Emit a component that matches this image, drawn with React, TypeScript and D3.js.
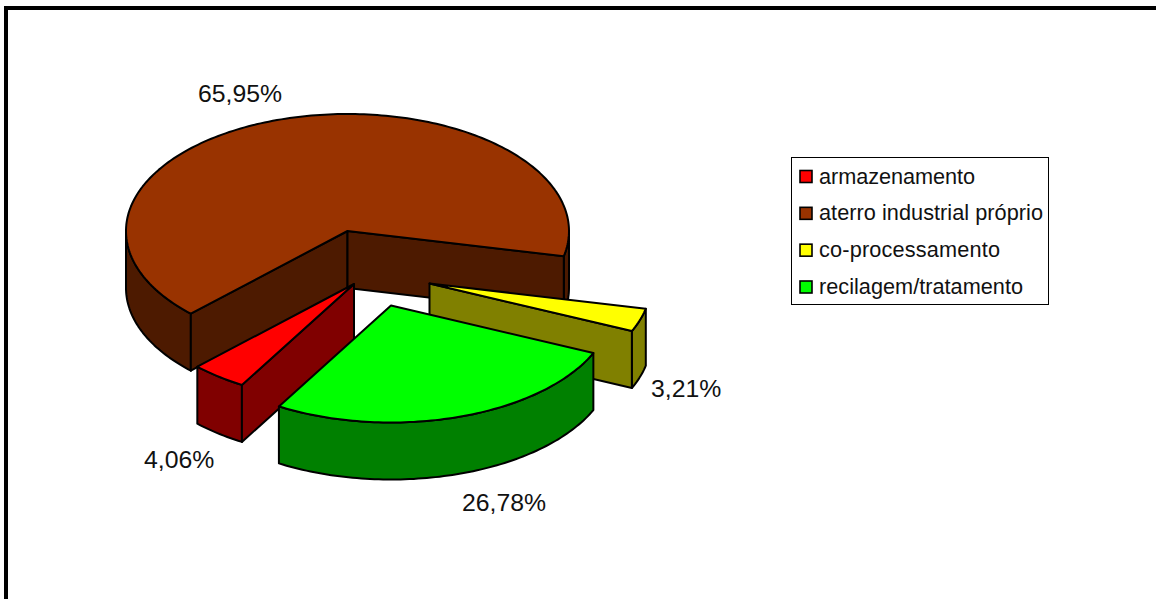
import React from "react";
import * as d3 from "d3";

const categories = ["armazenamento", "aterro industrial próprio", "co-processamento", "recilagem/tratamento"];
const values = [4.06, 65.95, 3.21, 26.78];
const valueLabels = ["4,06%", "65,95%", "3,21%", "26,78%"];
const topColors = ["#ff0000", "#993300", "#ffff00", "#00ff00"];
const sideColors = ["#800000", "#4d1a00", "#808000", "#008000"];

const W = 1156, H = 599;
const RX = 221.5, RY = 117, DEPTH = 57;
const START = (210.4 * Math.PI) / 180;
const apexes: [number, number][] = [[354, 284], [347.5, 231], [429.5, 283.5], [391, 305.5]];
const labelPos: [number, number][] = [[144, 468], [198, 102], [651, 397], [462, 511]];
const legendTextWidths = [156, 224, 181, 204];
const drawOrder = [1, 2, 0, 3];
const FONT = "'Liberation Sans', Arial, sans-serif";

const TAU = Math.PI * 2;
const pie = d3.pie<number>().sort(null).startAngle(START).endAngle(START + TAU);
const arcs = pie(values);

const line = d3.line<[number, number]>();

function pt(c: [number, number], a: number, dz = 0): [number, number] {
  return [c[0] + RX * Math.sin(a), c[1] - RY * Math.cos(a) + dz];
}
function arcPts(c: [number, number], a0: number, a1: number, dz = 0): [number, number][] {
  const n = Math.max(2, Math.ceil(Math.abs(a1 - a0) / 0.02));
  return d3.range(n + 1).map((i) => pt(c, a0 + ((a1 - a0) * i) / n, dz));
}
// front-facing part of the rim: clock angles between 90 and 270 degrees
function frontRanges(a0: number, a1: number): [number, number][] {
  const out: [number, number][] = [];
  for (let k = -1; k <= 2; k++) {
    const lo = Math.max(a0, Math.PI / 2 + k * TAU);
    const hi = Math.min(a1, (3 * Math.PI) / 2 + k * TAU);
    if (hi > lo) out.push([lo, hi]);
  }
  return out;
}

function Slice({ i }: { i: number }) {
  const { startAngle: a0, endAngle: a1 } = arcs[i];
  const c = apexes[i];
  const walls: string[] = [];
  for (const [lo, hi] of frontRanges(a0, a1)) {
    walls.push(line([...arcPts(c, lo, hi), ...arcPts(c, hi, lo, DEPTH)])! + "Z");
  }
  const radial = (a: number) => {
    const p = pt(c, a);
    return line([c, p, [p[0], p[1] + DEPTH], [c[0], c[1] + DEPTH]])! + "Z";
  };
  if (Math.sin(a0) < 0) walls.push(radial(a0));
  if (Math.sin(a1) > 0) walls.push(radial(a1));
  const top = line([c, ...arcPts(c, a0, a1)])! + "Z";
  return (
    <g stroke="#000" strokeWidth={2} strokeLinejoin="round">
      {walls.map((d, k) => (
        <path key={k} d={d} fill={sideColors[i]} />
      ))}
      <path d={top} fill={topColors[i]} />
    </g>
  );
}

const legendY = d3.scalePoint<number>().domain(d3.range(categories.length)).range([176.5, 287]);

export default function App() {
  return (
    <svg width={W} height={H} viewBox={`0 0 ${W} ${H}`} style={{ position: "absolute", left: 0, top: 0, background: "#fff" }}>
      <rect x={4} y={6} width={W - 4} height={4} fill="#000" />
      <rect x={4} y={6} width={4} height={H - 6} fill="#000" />
      {drawOrder.map((i) => (
        <Slice key={i} i={i} />
      ))}
      {valueLabels.map((t, i) => (
        <text key={t} x={labelPos[i][0]} y={labelPos[i][1]} fontFamily={FONT} fontSize={24.8} fill="#111">
          {t}
        </text>
      ))}
      <rect x={791.5} y={157.5} width={257} height={147} fill="#fff" stroke="#000" strokeWidth={1} />
      {categories.map((t, i) => (
        <g key={t}>
          <rect x={800} y={legendY(i)! - 6} width={12} height={12} fill={topColors[i]} stroke="#000" strokeWidth={1.6} />
          <text x={819} y={legendY(i)! + 7} fontFamily={FONT} fontSize={21.7} fill="#111" textLength={legendTextWidths[i]}>
            {t}
          </text>
        </g>
      ))}
    </svg>
  );
}
